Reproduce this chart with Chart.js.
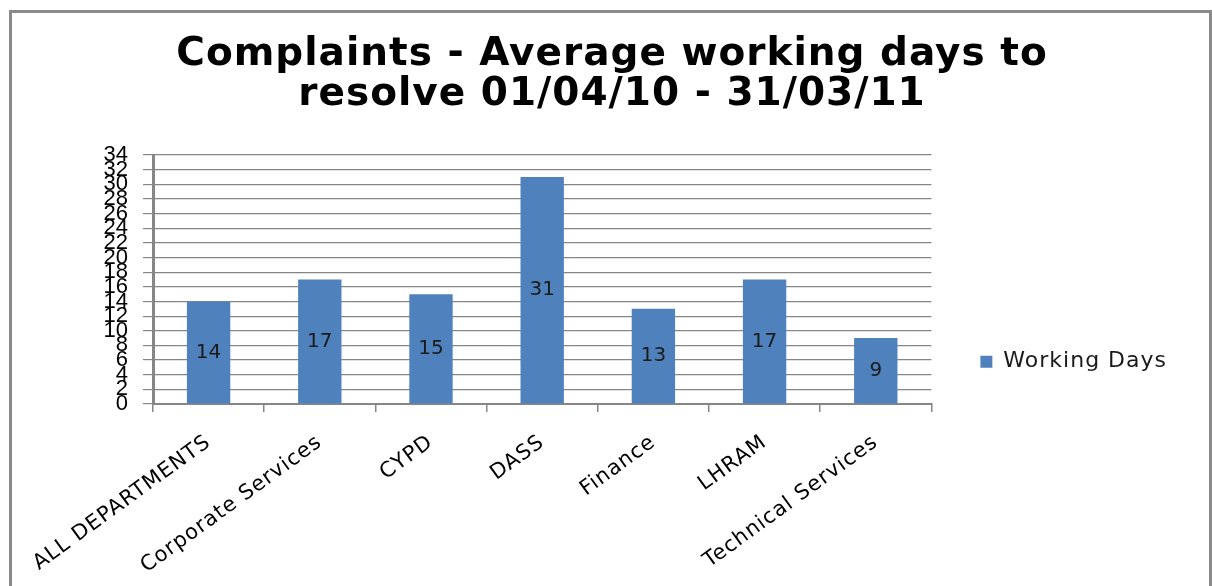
<!DOCTYPE html>
<html>
<head>
<meta charset="utf-8">
<script src="https://cdn.jsdelivr.net/npm/chart.js@4/dist/chart.umd.min.js"></script>
<style>
  body { margin: 0; background: #fff; }
  #wrap { width: 1212px; height: 586px; position: relative; }
</style>
</head>
<body>
<div id="wrap"><canvas id="chart"></canvas></div>
<script>
// departments and average working days
const departments = [
  "ALL DEPARTMENTS",
  "Corporate Services",
  "CYPD",
  "DASS",
  "Finance",
  "LHRAM",
  "Technical Services",
];
const workingDays = [14, 17, 15, 31, 13, 17, 9];
const yMin = 0;
const yMax = 34;
const yStep = 2;

const barColor = "#4F81BD";
const gridColor = "#868686";

// the reference text is wide, so title / legend / x labels get a little letter spacing
const wideText = {
  id: "wideText",
  beforeLayout(chart) {
    chart.ctx.letterSpacing = "1px";
  },
  afterLayout(chart) {
    chart.ctx.letterSpacing = "0px";
  },
  beforeDraw(chart) {
    chart.ctx.letterSpacing = "1px";
  },
  beforeDatasetsDraw(chart) {
    chart.ctx.letterSpacing = "0px";
  },
};

// gray frame round the picture
const framePlugin = {
  id: "frame",
  beforeDraw(chart) {
    const ctx = chart.ctx;
    ctx.save();
    ctx.strokeStyle = "#8a8a8a";
    ctx.lineWidth = 3;
    ctx.beginPath();
    ctx.moveTo(10.5, chart.height);
    ctx.lineTo(10.5, 11.5);
    ctx.lineTo(1210.5, 11.5);
    ctx.lineTo(1210.5, chart.height);
    ctx.stroke();
    ctx.restore();
  },
};

// value written in the middle of each bar
const valueLabels = {
  id: "valueLabels",
  afterDatasetsDraw(chart) {
    const ctx = chart.ctx;
    ctx.save();
    ctx.font = "20px 'DejaVu Sans'";
    ctx.fillStyle = "#1a1a1a";
    ctx.textAlign = "center";
    ctx.textBaseline = "middle";
    chart.getDatasetMeta(0).data.forEach((bar, i) => {
      ctx.fillText(workingDays[i], bar.x, (bar.y + bar.base) / 2);
    });
    ctx.restore();
  },
};

new Chart(document.getElementById("chart"), {
  type: "bar",
  data: {
    labels: departments,
    datasets: [
      {
        label: "Working Days",
        data: workingDays,
        backgroundColor: barColor,
        barPercentage: 0.39,
        categoryPercentage: 1,
      },
    ],
  },
  options: {
    responsive: true,
    maintainAspectRatio: false,
    animation: false,
    // left/right padding also keeps the title centred a bit right of the middle
    layout: { padding: { left: 47, right: 35, top: 0, bottom: 0 } },
    plugins: {
      title: {
        display: true,
        text: ["Complaints - Average working days to", "resolve 01/04/10 - 31/03/11"],
        color: "#000",
        font: { family: "'DejaVu Sans'", size: 39, weight: "bold", lineHeight: 1.026 },
        padding: { top: 35, bottom: 40 },
      },
      legend: {
        position: "right",
        // empty legend title only pushes the item down to the middle of the plot
        title: { display: true, text: "", font: { size: 12 }, padding: { top: 123, bottom: 0 } },
        labels: {
          boxWidth: 12,
          boxHeight: 12,
          padding: 49,
          color: "#1a1a1a",
          font: { family: "'DejaVu Sans'", size: 22 },
        },
      },
      tooltip: { enabled: false },
    },
    scales: {
      x: {
        grid: {
          offset: true,
          drawOnChartArea: false,
          color: gridColor,
          lineWidth: 1.5,
          tickLength: 8,
        },
        border: { color: gridColor, width: 2 },
        ticks: {
          autoSkip: false,
          minRotation: 36,
          maxRotation: 36,
          padding: 18,
          color: "#000",
          font: { family: "'DejaVu Sans'", size: 21 },
        },
        afterFit(scale) {
          scale.height = 182;
        },
      },
      y: {
        min: yMin,
        max: yMax,
        grid: { color: gridColor, lineWidth: 1.2, tickLength: 10 },
        border: { color: gridColor, width: 3 },
        ticks: {
          z: 1,
          stepSize: yStep,
          autoSkip: false,
          padding: 15,
          color: "#000",
          font: { family: "'Liberation Sans Narrow', 'Liberation Sans'", size: 22 },
        },
        afterFit(scale) {
          scale.width = 106;
        },
      },
    },
  },
  plugins: [wideText, framePlugin, valueLabels],
});
</script>
</body>
</html>
